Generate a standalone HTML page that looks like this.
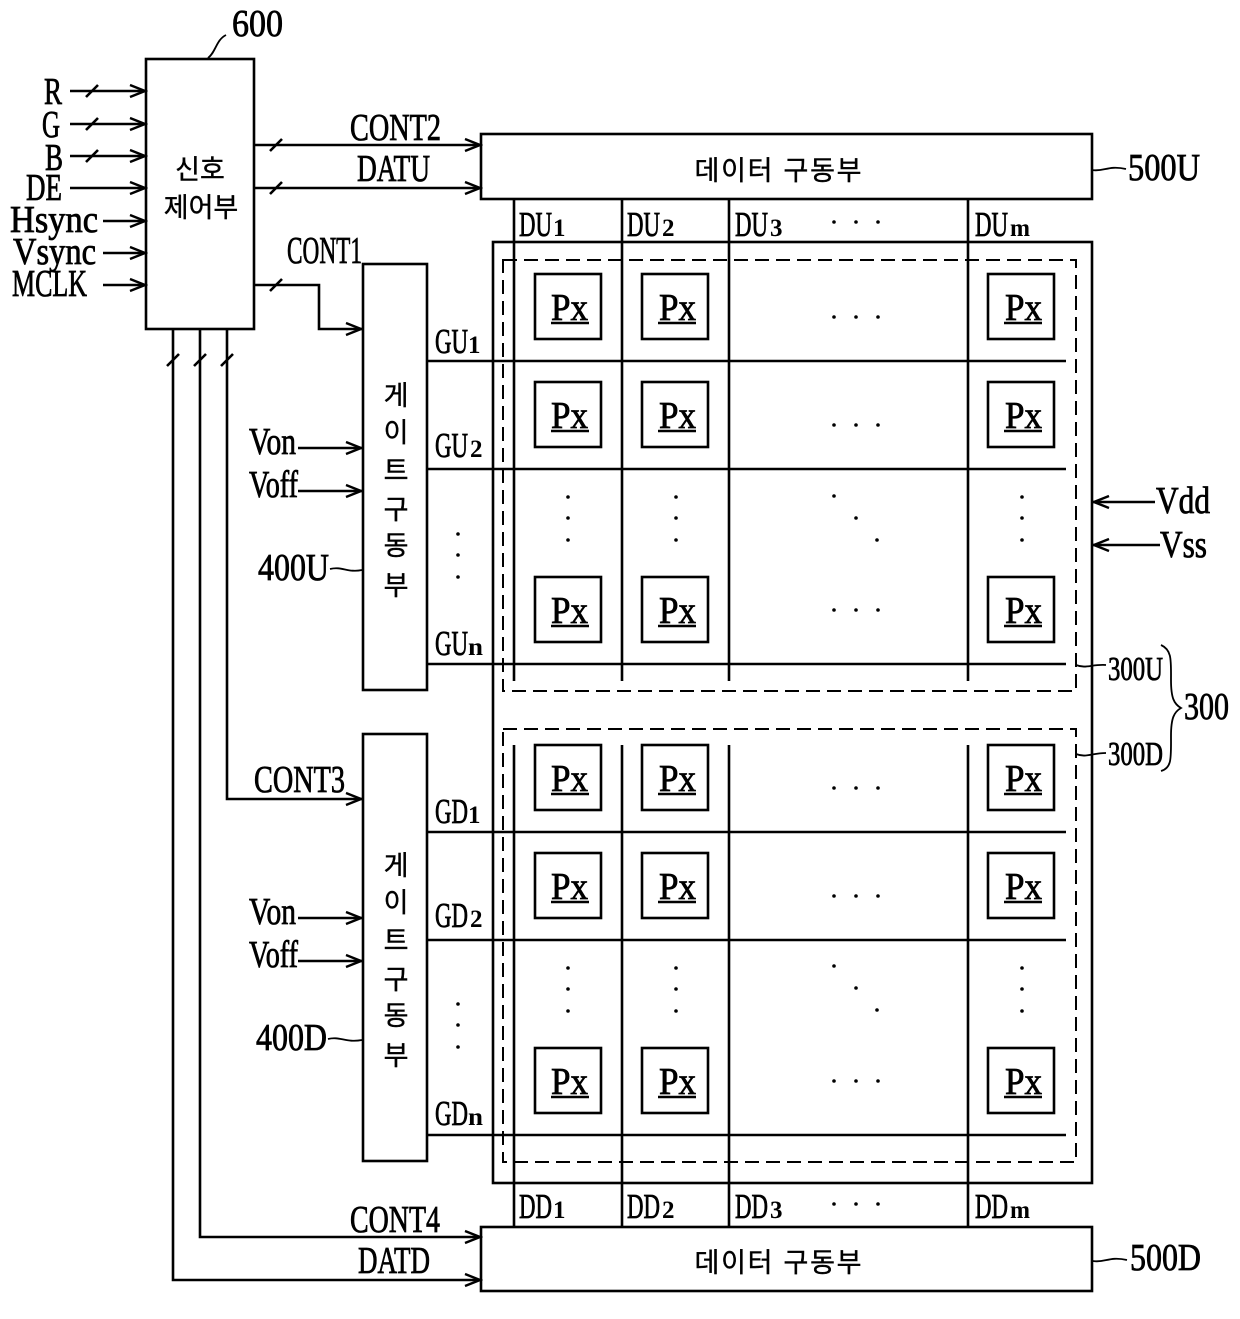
<!DOCTYPE html>
<html><head><meta charset="utf-8"><style>
html,body{margin:0;padding:0;background:#fff}
svg{display:block}
.l{fill:none;stroke:#000;stroke-width:2.6}
.t{font-family:"Liberation Serif",serif;font-size:38px;fill:#000;stroke:#000;stroke-width:.8}
.s{font-family:"Liberation Serif",serif;font-size:25px;font-weight:bold;fill:#000}
.g{font-size:34px}
.m{font-size:35px}
.k{font-family:"Liberation Sans","Noto Sans CJK KR",sans-serif;font-size:27px;fill:#000;stroke:#000;stroke-width:.4;text-anchor:middle}
</style></head><body>
<svg width="1240" height="1319" viewBox="0 0 1240 1319" xmlns="http://www.w3.org/2000/svg">
<defs>
<marker id="a" markerUnits="userSpaceOnUse" markerWidth="20" markerHeight="16" refX="18" refY="8" orient="auto"><path d="M2 2 L17 8 L2 14" fill="none" stroke="#000" stroke-width="2.4"/></marker>
<g id="px"><rect x="0" y="0" width="66" height="65" class="l"/><path d="M16 49H54" stroke="#000" stroke-width="2.6"/></g>
<g id="h3"><circle cx="0" cy="0" r="1.8"/><circle cx="22" cy="0" r="1.8"/><circle cx="44" cy="0" r="1.8"/></g>
<g id="v3"><circle cx="0" cy="0" r="1.8"/><circle cx="0" cy="21" r="1.8"/><circle cx="0" cy="43" r="1.8"/></g>
<g id="d3"><circle cx="0" cy="0" r="1.8"/><circle cx="22" cy="22" r="1.8"/><circle cx="43" cy="44" r="1.8"/></g>
</defs>
<rect width="1240" height="1319" fill="#fff"/>

<!-- boxes -->
<rect x="146" y="59" width="108" height="270" class="l"/>
<rect x="481" y="134" width="611" height="65" class="l"/>
<rect x="481" y="1227" width="611" height="64" class="l"/>
<rect x="493" y="242" width="599" height="941" class="l"/>
<rect x="363" y="264" width="64" height="426" class="l"/>
<rect x="363" y="734" width="64" height="427" class="l"/>
<rect x="503" y="260" width="573" height="431" class="l" stroke-dasharray="14 7" style="stroke-width:2"/>
<rect x="503" y="729" width="573" height="433" class="l" stroke-dasharray="14 7" style="stroke-width:2"/>

<!-- data lines -->
<path class="l" d="M514 199V681M622 199V681M729 199V681M968 199V681M514 745V1226M622 745V1226M729 745V1226M968 745V1226"/>
<!-- gate lines -->
<path class="l" d="M428 361H1066M428 469H1066M428 664H1066M428 832H1066M428 940H1066M428 1135H1066"/>

<!-- input arrows -->
<path class="l" marker-end="url(#a)" d="M70 91H146"/>
<path class="l" marker-end="url(#a)" d="M70 124H146"/>
<path class="l" marker-end="url(#a)" d="M70 156H146"/>
<path class="l" marker-end="url(#a)" d="M70 188H146"/>
<path class="l" marker-end="url(#a)" d="M103 221H146"/>
<path class="l" marker-end="url(#a)" d="M103 253H146"/>
<path class="l" marker-end="url(#a)" d="M103 285H146"/>
<path class="l" d="M86 97L98 85M86 130L98 118M86 162L98 150"/>
<path class="l" marker-end="url(#a)" d="M254 145H481"/>
<path class="l" marker-end="url(#a)" d="M254 188H481"/>
<path class="l" marker-end="url(#a)" d="M254 285H319V329H362"/>
<path class="l" d="M270 151L282 139M270 194L282 182M270 291L282 279"/>
<path class="l" marker-end="url(#a)" d="M227 328V799H362"/>
<path class="l" marker-end="url(#a)" d="M200 328V1237H481"/>
<path class="l" marker-end="url(#a)" d="M173 328V1280H481"/>
<path class="l" d="M167 366L179 354M194 366L206 354M221 366L233 354"/>
<path class="l" marker-end="url(#a)" d="M298 448H362"/>
<path class="l" marker-end="url(#a)" d="M298 491H362"/>
<path class="l" marker-end="url(#a)" d="M298 918H362"/>
<path class="l" marker-end="url(#a)" d="M298 961H362"/>
<path class="l" marker-end="url(#a)" d="M1155 502H1093"/>
<path class="l" marker-end="url(#a)" d="M1160 545H1093"/>

<!-- leaders -->
<path class="l" style="stroke-width:1.8" d="M208 58C216 52 216 40 226 35"/>
<path class="l" style="stroke-width:1.8" d="M1092 170C1104 172 1108 165 1126 169"/>
<path class="l" style="stroke-width:1.8" d="M1093 1261C1105 1263 1109 1256 1127 1260"/>
<path class="l" style="stroke-width:1.8" d="M330 569C342 566 348 573 362 570"/>
<path class="l" style="stroke-width:1.8" d="M328 1039C340 1036 346 1043 362 1040"/>
<path class="l" style="stroke-width:1.8" d="M1076 665C1086 669 1092 664 1106 665"/>
<path class="l" style="stroke-width:1.8" d="M1076 754C1086 758 1092 753 1106 753"/>
<path class="l" style="stroke-width:1.8" d="M1161 645C1172 650 1171 660 1171 680C1171 698 1174 704 1181 708C1174 712 1171 718 1171 736C1171 758 1172 768 1161 771"/>

<!-- Px boxes -->
<use href="#px" x="535" y="274"/><use href="#px" x="642" y="274"/><use href="#px" x="988" y="274"/>
<use href="#px" x="535" y="382"/><use href="#px" x="642" y="382"/><use href="#px" x="988" y="382"/>
<use href="#px" x="535" y="577"/><use href="#px" x="642" y="577"/><use href="#px" x="988" y="577"/>
<use href="#px" x="535" y="745"/><use href="#px" x="642" y="745"/><use href="#px" x="988" y="745"/>
<use href="#px" x="535" y="853"/><use href="#px" x="642" y="853"/><use href="#px" x="988" y="853"/>
<use href="#px" x="535" y="1048"/><use href="#px" x="642" y="1048"/><use href="#px" x="988" y="1048"/>

<text class="t" x="551" y="320" textLength="37" lengthAdjust="spacingAndGlyphs">Px</text>
<text class="t" x="659" y="320" textLength="37" lengthAdjust="spacingAndGlyphs">Px</text>
<text class="t" x="1005" y="320" textLength="37" lengthAdjust="spacingAndGlyphs">Px</text>
<text class="t" x="551" y="428" textLength="37" lengthAdjust="spacingAndGlyphs">Px</text>
<text class="t" x="659" y="428" textLength="37" lengthAdjust="spacingAndGlyphs">Px</text>
<text class="t" x="1005" y="428" textLength="37" lengthAdjust="spacingAndGlyphs">Px</text>
<text class="t" x="551" y="623" textLength="37" lengthAdjust="spacingAndGlyphs">Px</text>
<text class="t" x="659" y="623" textLength="37" lengthAdjust="spacingAndGlyphs">Px</text>
<text class="t" x="1005" y="623" textLength="37" lengthAdjust="spacingAndGlyphs">Px</text>
<text class="t" x="551" y="791" textLength="37" lengthAdjust="spacingAndGlyphs">Px</text>
<text class="t" x="659" y="791" textLength="37" lengthAdjust="spacingAndGlyphs">Px</text>
<text class="t" x="1005" y="791" textLength="37" lengthAdjust="spacingAndGlyphs">Px</text>
<text class="t" x="551" y="899" textLength="37" lengthAdjust="spacingAndGlyphs">Px</text>
<text class="t" x="659" y="899" textLength="37" lengthAdjust="spacingAndGlyphs">Px</text>
<text class="t" x="1005" y="899" textLength="37" lengthAdjust="spacingAndGlyphs">Px</text>
<text class="t" x="551" y="1094" textLength="37" lengthAdjust="spacingAndGlyphs">Px</text>
<text class="t" x="659" y="1094" textLength="37" lengthAdjust="spacingAndGlyphs">Px</text>
<text class="t" x="1005" y="1094" textLength="37" lengthAdjust="spacingAndGlyphs">Px</text>

<!-- dots -->
<use href="#h3" x="834" y="222"/><use href="#h3" x="834" y="1204"/>
<use href="#h3" x="834" y="317"/><use href="#h3" x="834" y="425"/><use href="#h3" x="834" y="610"/>
<use href="#h3" x="834" y="788"/><use href="#h3" x="834" y="896"/><use href="#h3" x="834" y="1081"/>
<use href="#v3" x="568" y="497"/><use href="#v3" x="676" y="497"/><use href="#v3" x="1022" y="497"/>
<use href="#v3" x="568" y="968"/><use href="#v3" x="676" y="968"/><use href="#v3" x="1022" y="968"/>
<use href="#d3" x="834" y="496"/><use href="#d3" x="834" y="966"/>
<use href="#v3" x="458" y="534"/><use href="#v3" x="458" y="1004"/>

<!-- labels -->
<text class="t" x="232" y="36" textLength="51" lengthAdjust="spacingAndGlyphs">600</text>
<text class="t" x="44" y="104" textLength="18" lengthAdjust="spacingAndGlyphs">R</text>
<text class="t" x="42" y="137" textLength="18" lengthAdjust="spacingAndGlyphs">G</text>
<text class="t" x="45" y="170" textLength="18" lengthAdjust="spacingAndGlyphs">B</text>
<text class="t" x="26" y="200" textLength="36" lengthAdjust="spacingAndGlyphs">DE</text>
<text class="t" x="10" y="232" textLength="88" lengthAdjust="spacingAndGlyphs">Hsync</text>
<text class="t" x="13" y="264" textLength="83" lengthAdjust="spacingAndGlyphs">Vsync</text>
<text class="t" x="12" y="296" textLength="75" lengthAdjust="spacingAndGlyphs">MCLK</text>
<text class="t" x="350" y="140" textLength="91" lengthAdjust="spacingAndGlyphs">CONT2</text>
<text class="t" x="357" y="181" textLength="73" lengthAdjust="spacingAndGlyphs">DATU</text>
<text class="t" x="287" y="263" textLength="75" lengthAdjust="spacingAndGlyphs">CONT1</text>
<text class="t" x="254" y="792" textLength="91" lengthAdjust="spacingAndGlyphs">CONT3</text>
<text class="t" x="350" y="1232" textLength="90" lengthAdjust="spacingAndGlyphs">CONT4</text>
<text class="t" x="358" y="1273" textLength="72" lengthAdjust="spacingAndGlyphs">DATD</text>
<text class="t" x="249" y="454" textLength="47" lengthAdjust="spacingAndGlyphs">Von</text>
<text class="t" x="249" y="497" textLength="49" lengthAdjust="spacingAndGlyphs">Voff</text>
<text class="t" x="258" y="580" textLength="71" lengthAdjust="spacingAndGlyphs">400U</text>
<text class="t" x="249" y="924" textLength="47" lengthAdjust="spacingAndGlyphs">Von</text>
<text class="t" x="249" y="967" textLength="49" lengthAdjust="spacingAndGlyphs">Voff</text>
<text class="t" x="256" y="1050" textLength="71" lengthAdjust="spacingAndGlyphs">400D</text>
<text class="t" x="1128" y="180" textLength="72" lengthAdjust="spacingAndGlyphs">500U</text>
<text class="t" x="1130" y="1270" textLength="71" lengthAdjust="spacingAndGlyphs">500D</text>
<text class="t" x="1156" y="513" textLength="54" lengthAdjust="spacingAndGlyphs">Vdd</text>
<text class="t" x="1160" y="557" textLength="47" lengthAdjust="spacingAndGlyphs">Vss</text>
<text class="t g" x="1108" y="680" textLength="55" lengthAdjust="spacingAndGlyphs">300U</text>
<text class="t g" x="1108" y="765" textLength="55" lengthAdjust="spacingAndGlyphs">300D</text>
<text class="t" x="1184" y="719" textLength="45" lengthAdjust="spacingAndGlyphs">300</text>

<text class="t m" x="519" y="236" textLength="33" lengthAdjust="spacingAndGlyphs">DU</text><text class="s" x="553" y="236">1</text>
<text class="t m" x="627" y="236" textLength="33" lengthAdjust="spacingAndGlyphs">DU</text><text class="s" x="662" y="236">2</text>
<text class="t m" x="735" y="236" textLength="33" lengthAdjust="spacingAndGlyphs">DU</text><text class="s" x="770" y="236">3</text>
<text class="t m" x="975" y="236" textLength="33" lengthAdjust="spacingAndGlyphs">DU</text><text class="s" x="1010" y="236" textLength="20" lengthAdjust="spacingAndGlyphs">m</text>
<text class="t m" x="519" y="1218" textLength="33" lengthAdjust="spacingAndGlyphs">DD</text><text class="s" x="553" y="1218">1</text>
<text class="t m" x="627" y="1218" textLength="33" lengthAdjust="spacingAndGlyphs">DD</text><text class="s" x="662" y="1218">2</text>
<text class="t m" x="735" y="1218" textLength="33" lengthAdjust="spacingAndGlyphs">DD</text><text class="s" x="770" y="1218">3</text>
<text class="t m" x="975" y="1218" textLength="33" lengthAdjust="spacingAndGlyphs">DD</text><text class="s" x="1010" y="1218" textLength="20" lengthAdjust="spacingAndGlyphs">m</text>

<text class="t m" x="435" y="353" textLength="33" lengthAdjust="spacingAndGlyphs">GU</text><text class="s" x="468" y="353">1</text>
<text class="t m" x="435" y="457" textLength="33" lengthAdjust="spacingAndGlyphs">GU</text><text class="s" x="470" y="457">2</text>
<text class="t m" x="435" y="655" textLength="33" lengthAdjust="spacingAndGlyphs">GU</text><text class="s" x="468" y="655" textLength="15" lengthAdjust="spacingAndGlyphs">n</text>
<text class="t m" x="435" y="823" textLength="33" lengthAdjust="spacingAndGlyphs">GD</text><text class="s" x="468" y="823">1</text>
<text class="t m" x="435" y="927" textLength="33" lengthAdjust="spacingAndGlyphs">GD</text><text class="s" x="470" y="927">2</text>
<text class="t m" x="435" y="1125" textLength="33" lengthAdjust="spacingAndGlyphs">GD</text><text class="s" x="468" y="1125" textLength="15" lengthAdjust="spacingAndGlyphs">n</text>

<!-- Korean -->
<text class="k" x="200" y="179">신호</text>
<text class="k" x="201" y="217">제어부</text>
<text class="k" x="778" y="180" textLength="167">데이터 구동부</text>
<text class="k" x="778" y="1272" textLength="167">데이터 구동부</text>
<text class="k" x="396" y="405">게</text><text class="k" x="396" y="442">이</text><text class="k" x="396" y="480">트</text><text class="k" x="396" y="519">구</text><text class="k" x="396" y="555">동</text><text class="k" x="396" y="595">부</text>
<text class="k" x="396" y="875">게</text><text class="k" x="396" y="912">이</text><text class="k" x="396" y="950">트</text><text class="k" x="396" y="989">구</text><text class="k" x="396" y="1025">동</text><text class="k" x="396" y="1065">부</text>
</svg>
</body></html>
